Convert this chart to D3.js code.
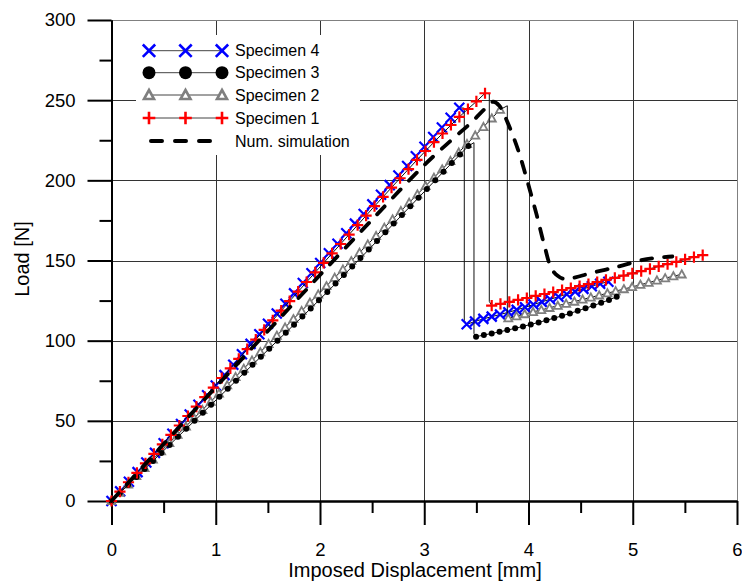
<!DOCTYPE html>
<html>
<head>
<meta charset="utf-8">
<script src="https://cdn.jsdelivr.net/npm/d3@7"></script>
<style>
  body { margin: 0; background: #fff; }
  svg { display: block; font-family: "Liberation Sans", Arial, sans-serif; }
</style>
</head>
<body>
<svg id="chart" width="742" height="583"></svg>
<script>
// ---- Data: imposed displacement [mm] vs load [N] ----

// Specimen 4: loading branch, post-peak jump (line only), residual branch
const spec4Load = [
  [0,0],[0.083,6],[0.167,12],[0.25,18],[0.334,24],[0.417,30],[0.5,36],[0.584,42],[0.667,48],
  [0.75,54],[0.834,60],[0.917,66],[1.0,72],[1.084,78.5],[1.168,85],[1.251,91.5],[1.334,98],
  [1.418,104],[1.501,110.5],[1.585,117],[1.668,123],[1.751,129.5],[1.835,136],[1.918,142],
  [2.002,148.5],[2.085,154.5],[2.168,160.5],[2.252,167],[2.335,173],[2.419,179],[2.502,185],
  [2.585,191],[2.669,197],[2.752,203],[2.836,209],[2.919,215],[3.002,221],[3.086,227],
  [3.169,233],[3.253,239],[3.336,245.3]
];
const spec4Drop = [[3.384,245.0],[3.384,112.5]];
const spec4Post = [
  [3.407,110.2],[3.487,112.0],[3.567,113.6],[3.647,115.0],[3.727,116.3],[3.807,117.7],
  [3.887,119.2],[3.967,120.8],[4.047,122.5],[4.127,124.2],[4.207,125.8],[4.287,127.4],
  [4.367,129.0],[4.447,130.6],[4.527,132.3],[4.607,134.0],[4.687,135.5],[4.766,136.8]
];

// Specimen 3
const spec3Load = [
  [0,0],[0.080,5.0],[0.159,10.0],[0.239,15.0],[0.318,20.0],[0.398,25.0],[0.478,30.0],
  [0.557,35.0],[0.637,40.0],[0.716,45.0],[0.796,50.0],[0.876,55.0],[0.955,60.0],[1.035,65.0],
  [1.115,70.0],[1.194,75.0],[1.274,80.0],[1.353,85.0],[1.433,90.0],[1.513,95.0],[1.592,100.0],
  [1.672,105.0],[1.751,110.0],[1.831,115.0],[1.911,120.1],[1.990,125.2],[2.070,130.4],
  [2.149,135.6],[2.229,140.9],[2.309,146.2],[2.388,151.5],[2.468,156.8],[2.547,162.2],
  [2.627,167.6],[2.707,173.0],[2.786,178.4],[2.866,183.8],[2.945,189.2],[3.025,194.6],
  [3.105,200.0],[3.184,205.4],[3.264,210.8],[3.343,216.1],[3.423,221.4]
];
const spec3Drop = [[3.477,223.5],[3.477,104.5]];
const spec3Post = [
  [3.497,102.5],[3.572,103.5],[3.647,104.5],[3.722,105.5],[3.797,106.6],[3.872,107.7],
  [3.947,108.9],[4.022,110.1],[4.097,111.4],[4.172,112.7],[4.247,114.1],[4.322,115.5],
  [4.397,117.0],[4.472,118.6],[4.547,120.2],[4.622,121.9],[4.697,123.6],[4.772,125.4],
  [4.846,127.4]
];

// Specimen 2
const spec2Load = [
  [0,0],[0.079,5.2],[0.159,10.4],[0.238,15.6],[0.317,20.7],[0.397,25.9],[0.476,31.1],
  [0.555,36.2],[0.634,41.4],[0.714,46.5],[0.793,51.7],[0.872,56.8],[0.952,62.0],[1.031,67.1],
  [1.110,72.3],[1.190,77.4],[1.269,82.6],[1.348,87.7],[1.427,92.9],[1.507,98.0],[1.586,103.2],
  [1.665,108.3],[1.745,113.5],[1.824,118.6],[1.903,123.8],[1.983,128.9],[2.062,134.1],
  [2.141,139.3],[2.220,144.5],[2.300,149.7],[2.379,154.9],[2.458,160.1],[2.538,165.3],
  [2.617,170.5],[2.696,175.7],[2.776,180.9],[2.855,186.1],[2.934,191.3],[3.013,196.5],
  [3.093,201.7],[3.172,206.9],[3.251,212.1],[3.331,217.4],[3.410,222.7],[3.489,228.0],
  [3.568,233.3],[3.648,238.7],[3.727,244.1]
];
const spec2Drop = [[3.797,246.5],[3.797,116.5]];
const spec2Post = [
  [3.806,114.0],[3.885,115.3],[3.964,116.6],[4.044,117.9],[4.123,119.2],[4.202,120.5],
  [4.281,121.8],[4.361,123.1],[4.440,124.4],[4.519,125.7],[4.598,127.0],[4.678,128.3],
  [4.757,129.6],[4.836,130.9],[4.915,132.2],[4.994,133.5],[5.074,134.9],[5.153,136.2],
  [5.232,137.6],[5.311,139.0],[5.390,140.2],[5.470,141.4]
];

// Specimen 1
const spec1Load = [
  [0,0],[0.081,5.8],[0.163,11.7],[0.244,17.6],[0.326,23.5],[0.407,29.4],[0.488,35.3],
  [0.570,41.2],[0.651,47.1],[0.733,53.0],[0.814,58.9],[0.895,64.8],[0.977,70.7],[1.058,76.7],
  [1.140,82.7],[1.221,88.7],[1.302,94.7],[1.384,100.7],[1.465,106.7],[1.547,112.7],
  [1.628,118.7],[1.709,124.7],[1.791,130.6],[1.872,136.6],[1.954,142.6],[2.035,148.5],
  [2.116,154.4],[2.198,160.3],[2.279,166.2],[2.361,172.1],[2.442,178.0],[2.523,183.9],
  [2.605,189.7],[2.686,195.5],[2.768,201.3],[2.849,207.0],[2.930,212.7],[3.012,218.3],
  [3.093,223.8],[3.175,229.2],[3.256,234.5],[3.337,239.6],[3.419,244.5],[3.500,249.2],
  [3.583,254.3]
];
const spec1Drop = [[3.624,254.0],[3.624,124.5]];
const spec1Post = [
  [3.647,121.8],[3.731,123.0],[3.816,124.2],[3.900,125.4],[3.984,126.6],[4.069,127.9],
  [4.153,129.1],[4.237,130.3],[4.322,131.6],[4.406,132.8],[4.490,134.0],[4.575,135.3],
  [4.659,136.6],[4.743,137.9],[4.828,139.2],[4.912,140.6],[4.996,142.0],[5.081,143.4],
  [5.165,144.8],[5.249,146.3],[5.334,147.8],[5.418,149.2],[5.502,150.7],[5.587,152.1],
  [5.671,153.4]
];

// Numerical simulation
const simCurve = [
  [0,0],[0.5,35.5],[1.0,71],[1.5,106],[2.0,141],[2.5,175.5],[3.0,209.5],[3.25,224.5],[3.45,236],
  [3.58,244.5],[3.66,249],[3.72,246.5],[3.8,236],[3.9,219],[4.0,197],[4.08,178],[4.15,160],
  [4.22,145],[4.28,140.5],[4.34,138.5],[4.45,139.5],[4.59,142],[4.85,146],[5.07,150],
  [5.2,151.5],[5.38,152.5]
];

const xTicks = [0, 1, 2, 3, 4, 5, 6];
const xMinorTicks = [0.5, 1.5, 2.5, 3.5, 4.5, 5.5];
const yTicks = [0, 50, 100, 150, 200, 250, 300];
const yMinorTicks = [25, 75, 125, 175, 225, 275];
const legendLabels = ["Specimen 4", "Specimen 3", "Specimen 2", "Specimen 1", "Num. simulation"];

// ---- Layout ----
const svg = d3.select("#chart");
const x = d3.scaleLinear().domain([0, 6]).range([111.5, 737]);
const y = d3.scaleLinear().domain([0, 300]).range([501, 20]);
const crisp = v => Math.round(v) + 0.5;

// Grid
const grid = svg.append("g");
xTicks.filter(v => v > 0).forEach(v => {
  grid.append("line")
    .attr("x1", crisp(x(v))).attr("x2", crisp(x(v)))
    .attr("y1", y(0)).attr("y2", y(300))
    .attr("stroke", v === 6 ? "#808080" : "#333").attr("stroke-width", 1);
});
yTicks.filter(v => v > 0).forEach(v => {
  grid.append("line")
    .attr("x1", x(0)).attr("x2", x(6))
    .attr("y1", crisp(y(v))).attr("y2", crisp(y(v)))
    .attr("stroke", v === 300 ? "#808080" : "#333").attr("stroke-width", 1);
});

// Legend background masks the grid behind it
const legend = svg.append("g");
legend.append("rect").attr("x", 136).attr("y", 35).attr("width", 224).attr("height", 120).attr("fill", "#fff");

// Axes
function styleAxis(g) {
  g.select(".domain").attr("stroke", "#000").attr("stroke-width", 2);
  g.selectAll(".tick line").attr("stroke", "#000").attr("stroke-width", 2);
  g.selectAll(".tick text").attr("fill", "#000").style("font-size", "18.5px")
    .style("font-family", '"Liberation Sans", Arial, sans-serif');
}
svg.append("g").attr("transform", `translate(0,${y(0)})`)
  .call(d3.axisBottom(x).tickValues(xMinorTicks).tickSize(12).tickSizeOuter(0).tickFormat(""))
  .call(styleAxis);
svg.append("g").attr("transform", `translate(0,${y(0)})`)
  .call(d3.axisBottom(x).tickValues(xTicks).tickSize(24).tickSizeOuter(0).tickPadding(18).tickFormat(d3.format("d")))
  .call(styleAxis);
svg.append("g").attr("transform", `translate(${x(0)},0)`)
  .call(d3.axisLeft(y).tickValues(yMinorTicks).tickSize(12).tickSizeOuter(0).tickFormat(""))
  .call(styleAxis);
svg.append("g").attr("transform", `translate(${x(0)},0)`)
  .call(d3.axisLeft(y).tickValues(yTicks).tickSize(24).tickSizeOuter(0).tickPadding(12).tickFormat(d3.format("d")))
  .call(styleAxis);

// Axis titles
svg.append("text").attr("x", 415).attr("y", 577).attr("text-anchor", "middle")
  .style("font-size", "20px").text("Imposed Displacement [mm]");
svg.append("text").attr("transform", "translate(29,259) rotate(-90)").attr("text-anchor", "middle")
  .style("font-size", "20px").text("Load [N]");

// ---- Marker shapes ----
const markers = {
  cross: (g, s) => g.append("path").attr("d", `M${-s},${-s}L${s},${s}M${-s},${s}L${s},${-s}`)
    .attr("stroke", "#0000ff").attr("stroke-width", 2.2).attr("fill", "none"),
  dot: (g, s) => g.append("circle").attr("r", s).attr("fill", "#000"),
  tri: (g, s) => g.append("path").attr("d", `M0,${-s}L${s},${s * 0.8}L${-s},${s * 0.8}Z`)
    .attr("stroke", "#7f7f7f").attr("stroke-width", 1.8).attr("fill", "#fff"),
  plus: (g, s) => g.append("path").attr("d", `M${-s},0H${s}M0,${-s}V${s}`)
    .attr("stroke", "#ff0000").attr("stroke-width", 2.2).attr("fill", "none")
};

const spec4 = { load: spec4Load, drop: spec4Drop, post: spec4Post, marker: "cross", size: 5, legendSize: 6.2 };
const spec3 = { load: spec3Load, drop: spec3Drop, post: spec3Post, marker: "dot", size: 3, legendSize: 6.5 };
const spec2 = { load: spec2Load, drop: spec2Drop, post: spec2Post, marker: "tri", size: 4, legendSize: 5 };
const spec1 = { load: spec1Load, drop: spec1Drop, post: spec1Post, marker: "plus", size: 5.6, legendSize: 6.3 };

const legendOrder = [spec4, spec3, spec2, spec1];
const drawOrder = [spec4, spec2, spec3, spec1];

const line = d3.line().x(d => x(d[0])).y(d => y(d[1]));
const plot = svg.append("g");

drawOrder.forEach(s => {
  plot.append("path")
    .datum(s.load.concat(s.drop, s.post))
    .attr("d", line).attr("fill", "none").attr("stroke", "#111").attr("stroke-width", 1);
  const pts = s.load.concat(s.post);
  const mg = plot.append("g");
  pts.forEach(p => {
    const g = mg.append("g").attr("transform", `translate(${x(p[0])},${y(p[1])})`);
    markers[s.marker](g, s.size);
  });
});

plot.append("path").datum(simCurve)
  .attr("d", line.curve(d3.curveCatmullRom.alpha(0.5)))
  .attr("fill", "none").attr("stroke", "#000").attr("stroke-width", 3.8)
  .attr("stroke-dasharray", "11,12").attr("stroke-linecap", "round");

// ---- Legend ----
const rowY = [50.7, 72.7, 95, 118, 141];
legendOrder.forEach((s, i) => {
  legend.append("line").attr("x1", 149).attr("x2", 222).attr("y1", rowY[i]).attr("y2", rowY[i])
    .attr("stroke", "#444").attr("stroke-width", 1);
  [149, 185.5, 222].forEach(mx => {
    const g = legend.append("g").attr("transform", `translate(${mx},${rowY[i]})`);
    markers[s.marker](g, s.legendSize).attr("stroke-width", s.marker === "dot" ? null : 2.6);
  });
});
legend.append("line").attr("x1", 151).attr("x2", 210).attr("y1", rowY[4]).attr("y2", rowY[4])
  .attr("stroke", "#000").attr("stroke-width", 4)
  .attr("stroke-dasharray", "11,13").attr("stroke-linecap", "round");
legendLabels.forEach((t, i) => {
  legend.append("text").attr("x", 235).attr("y", rowY[i]).attr("dy", "0.35em")
    .style("font-size", "16px").text(t);
});
</script>
</body>
</html>
